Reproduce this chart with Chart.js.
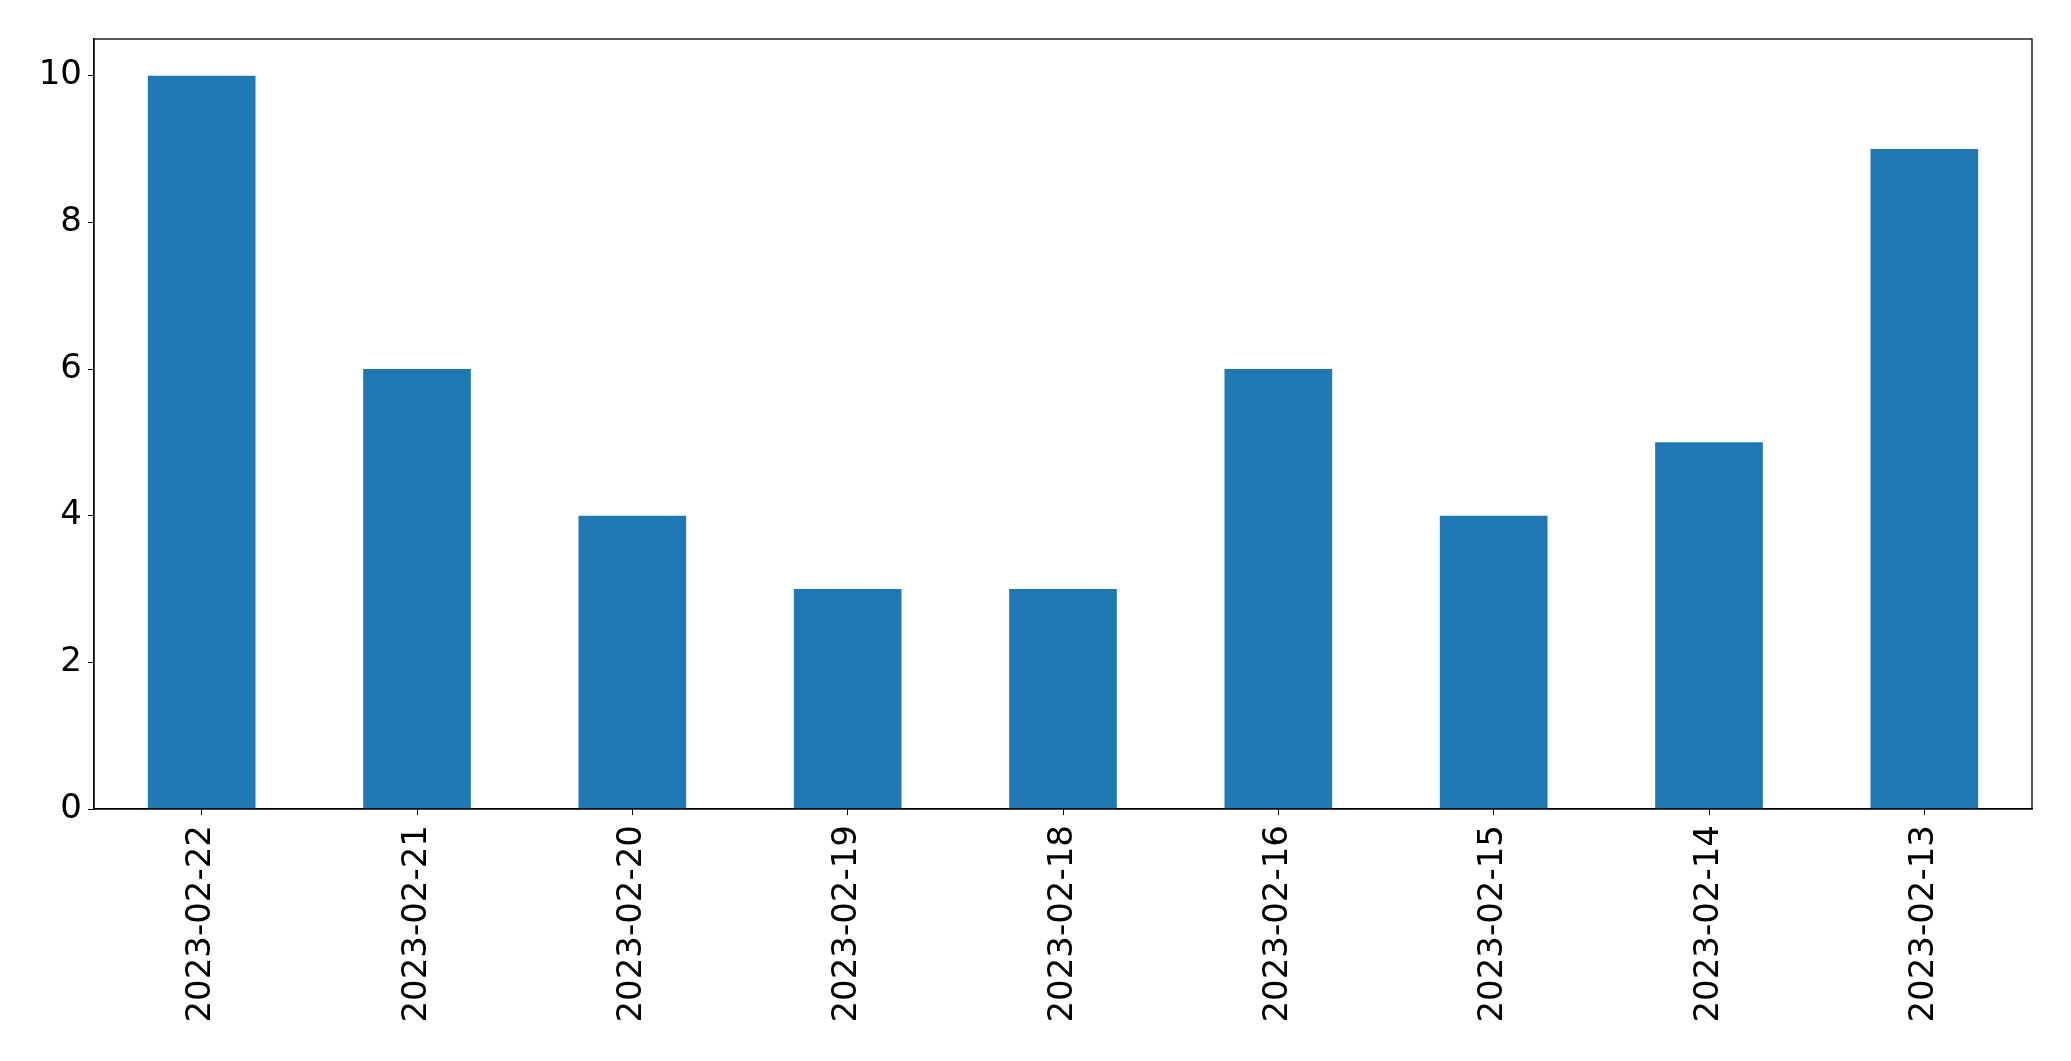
<!DOCTYPE html>
<html>
<head>
<meta charset="utf-8">
<style>
  html, body { margin: 0; padding: 0; background: #fff; }
  #wrap { width: 2071px; height: 1061px; }
</style>
</head>
<body>
<div id="wrap"><canvas id="chart" width="2071" height="1061"></canvas></div>
<script src="https://cdn.jsdelivr.net/npm/chart.js"></script>
<script>
const dates = ['2023-02-22', '2023-02-21', '2023-02-20', '2023-02-19', '2023-02-18', '2023-02-16', '2023-02-15', '2023-02-14', '2023-02-13'];
const counts = [10, 6, 4, 3, 3, 6, 4, 5, 9];
const yTicks = [0, 2, 4, 6, 8, 10];

// matplotlib-style closed frame round the plot area
const frame = {
  id: 'frame',
  afterDraw(chart) {
    const { ctx, chartArea: a } = chart;
    ctx.save();
    ctx.strokeStyle = '#000';
    ctx.lineWidth = 1.3;
    ctx.strokeRect(a.left, a.top, a.right - a.left, a.bottom - a.top);
    ctx.restore();
  }
};

Chart.defaults.font.family = 'DejaVu Sans';
Chart.defaults.color = '#000';

new Chart(document.getElementById('chart'), {
  type: 'bar',
  data: {
    labels: dates,
    datasets: [{ data: counts, backgroundColor: '#1f77b4', barPercentage: 0.5, categoryPercentage: 1.0 }]
  },
  options: {
    responsive: false,
    animation: false,
    layout: { padding: { top: 39, right: 39, left: 0, bottom: 0 } },
    plugins: { legend: { display: false }, tooltip: { enabled: false } },
    scales: {
      x: {
        offset: true,
        grid: { drawOnChartArea: false, drawTicks: true, tickLength: 6, color: '#000', offset: false },
        border: { color: '#000', width: 1.3 },
        ticks: { font: { size: 34 }, maxRotation: 90, minRotation: 90, padding: 10, autoSkip: false },
        afterFit(s) { s.height = 252; }
      },
      y: {
        min: 0,
        max: 10.5,
        grid: { drawOnChartArea: false, drawTicks: true, tickLength: 6, color: '#000' },
        border: { color: '#000', width: 1.3 },
        afterBuildTicks(s) { s.ticks = yTicks.map((v) => ({ value: v })); },
        ticks: { font: { size: 34 }, padding: 6 },
        afterFit(s) { s.width = 94; }
      }
    }
  },
  plugins: [frame]
});
</script>
</body>
</html>
